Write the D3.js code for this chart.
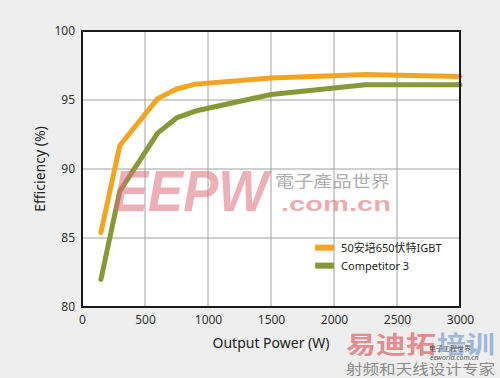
<!DOCTYPE html>
<html>
<head>
<meta charset="utf-8">
<script src="https://cdn.jsdelivr.net/npm/d3@7"></script>
<style>
  html, body { margin: 0; padding: 0; background: #eeeeee; }
  svg { display: block; font-family: 'Noto Sans', 'Noto Sans CJK SC', sans-serif; }
</style>
</head>
<body>
<div id="chart"></div>
<script>
// Data
const power = [150, 300, 600, 750, 900, 1500, 2250, 3000];
const ours = [85.4, 91.7, 95.1, 95.8, 96.15, 96.6, 96.85, 96.7];
const competitor = [82.0, 88.4, 92.6, 93.7, 94.2, 95.4, 96.1, 96.1];
const seriesNames = ['50安培650伏特IGBT', 'Competitor 3'];
const xTicks = [0, 500, 1000, 1500, 2000, 2500, 3000];
const yTicks = [80, 85, 90, 95, 100];

const colors = ['#f3a521', '#879838'];

const width = 500, height = 378;
let margin = { top: 31, right: 40, bottom: 71, left: 82 },
  w = width - margin.left - margin.right,
  h = height - margin.top - margin.bottom;

const svg = d3.select('#chart').append('svg')
  .attr('width', width).attr('height', height);

svg.append('rect').attr('width', width).attr('height', height).attr('fill', '#eeeeee');

const g = svg.append('g')
  .attr('transform', 'translate(' + margin.left + ',' + margin.top + ')');

const x = d3.scaleLinear().domain([0, 3000]).range([0, w]);
const y = d3.scaleLinear().domain([80, 100]).range([h, 0]);

g.append('rect').attr('width', w).attr('height', h).attr('fill', '#fff');

// grid
g.append('g')
  .selectAll('line')
  .data(xTicks.slice(1, -1))
  .join('line')
  .attr('x1', d => x(d)).attr('x2', d => x(d))
  .attr('y1', 0).attr('y2', h)
  .attr('stroke', '#a0a0a0').attr('stroke-width', 1);
g.append('g')
  .selectAll('line')
  .data(yTicks.slice(1, -1))
  .join('line')
  .attr('x1', 0).attr('x2', w)
  .attr('y1', d => y(d)).attr('y2', d => y(d))
  .attr('stroke', '#a0a0a0').attr('stroke-width', 1);

// tick labels via axes
const xAxis = g.append('g')
  .attr('transform', 'translate(0,' + h + ')')
  .call(d3.axisBottom(x).tickValues(xTicks).tickSize(0).tickPadding(8).tickFormat(d3.format('d')));
const yAxis = g.append('g')
  .call(d3.axisLeft(y).tickValues(yTicks).tickSize(0).tickPadding(7).tickFormat(d3.format('d')));
[xAxis, yAxis].forEach(a => {
  a.select('.domain').remove();
  a.selectAll('text').attr('font-size', 12).attr('fill', '#333')
    .attr('font-family', "'Noto Sans', sans-serif");
});

// series
const line = d3.line()
  .x((d, i) => x(power[i]))
  .y(d => y(d));

[ours, competitor].forEach((vals, i) => {
  g.append('path')
    .datum(vals)
    .attr('fill', 'none')
    .attr('stroke', colors[i])
    .attr('stroke-width', 5)
    .attr('stroke-linejoin', 'round')
    .attr('stroke-linecap', 'round')
    .attr('d', line);
});

// frame
g.append('rect').attr('width', w).attr('height', h)
  .attr('fill', 'none').attr('stroke', '#1a1a1a').attr('stroke-width', 2);

// legend
const legend = g.append('g').attr('transform', 'translate(' + (x(1850)) + ',' + (y(84.3)) + ')');
seriesNames.forEach((name, i) => {
  const row = legend.append('g').attr('transform', 'translate(0,' + (i * 18) + ')');
  row.append('rect').attr('x', 0).attr('y', -3).attr('width', 19).attr('height', 6).attr('fill', colors[i]);
  row.append('text').attr('x', 26).attr('y', 0).attr('dy', '0.35em')
    .attr('font-size', 11).attr('fill', '#222').text(name);
});

// axis titles
svg.append('text')
  .attr('x', margin.left + w / 2).attr('y', 343)
  .attr('dy', '0.35em').attr('text-anchor', 'middle')
  .attr('font-size', 14).attr('fill', '#222')
  .text('Output Power (W)');
svg.append('text')
  .attr('transform', 'translate(40,' + (margin.top + h / 2) + ') rotate(-90)')
  .attr('dy', '0.35em').attr('text-anchor', 'middle')
  .attr('font-size', 14).attr('fill', '#222')
  .text('Efficiency (%)');

// watermarks
const wm = svg.append('g').style('pointer-events', 'none');
wm.append('text')
  .attr('x', 113).attr('y', 211)
  .attr('font-size', 58).attr('font-weight', 'bold').attr('font-style', 'italic')
  .attr('font-family', "'Liberation Sans', sans-serif")
  .attr('textLength', 155).attr('lengthAdjust', 'spacingAndGlyphs')
  .attr('fill', '#e0707c').attr('fill-opacity', 0.55)
  .text('EEPW');
wm.append('text')
  .attr('x', 275).attr('y', 187)
  .attr('font-size', 16).attr('font-family', "'Noto Sans CJK TC', sans-serif")
  .attr('textLength', 115).attr('lengthAdjust', 'spacingAndGlyphs')
  .attr('fill', '#999').attr('fill-opacity', 0.8)
  .text('電子產品世界');
wm.append('text')
  .attr('x', 281).attr('y', 211)
  .attr('font-size', 20).attr('font-weight', 'bold')
  .attr('font-family', "'Liberation Sans', sans-serif")
  .attr('textLength', 110).attr('lengthAdjust', 'spacingAndGlyphs')
  .attr('fill', '#e0707c').attr('fill-opacity', 0.6)
  .text('.com.cn');
wm.append('text')
  .attr('x', 346).attr('y', 353)
  .attr('font-size', 24).attr('font-weight', 'bold')
  .attr('font-family', "'Noto Sans CJK SC', sans-serif")
  .attr('textLength', 90).attr('lengthAdjust', 'spacingAndGlyphs')
  .attr('fill', '#e06a70').attr('fill-opacity', 0.75)
  .text('易迪拓');
wm.append('text')
  .attr('x', 437).attr('y', 353)
  .attr('font-size', 24).attr('font-weight', 'bold')
  .attr('font-family', "'Noto Sans CJK SC', sans-serif")
  .attr('textLength', 58).attr('lengthAdjust', 'spacingAndGlyphs')
  .attr('fill', '#7a9fd0').attr('fill-opacity', 0.7)
  .text('培训');
wm.append('text')
  .attr('x', 429).attr('y', 351)
  .attr('font-size', 7).attr('font-family', "'Noto Sans CJK SC', sans-serif")
  .attr('fill', '#555')
  .text('电子工程世界');
wm.append('text')
  .attr('x', 430).attr('y', 360)
  .attr('font-size', 7).attr('font-style', 'italic')
  .attr('fill', '#555')
  .text('eeworld.com.cn');
wm.append('text')
  .attr('x', 346).attr('y', 374)
  .attr('font-size', 14).attr('font-family', "'Noto Sans CJK SC', sans-serif")
  .attr('textLength', 149).attr('lengthAdjust', 'spacingAndGlyphs')
  .attr('fill', '#8a8a8a')
  .text('射频和天线设计专家');
</script>
</body>
</html>
